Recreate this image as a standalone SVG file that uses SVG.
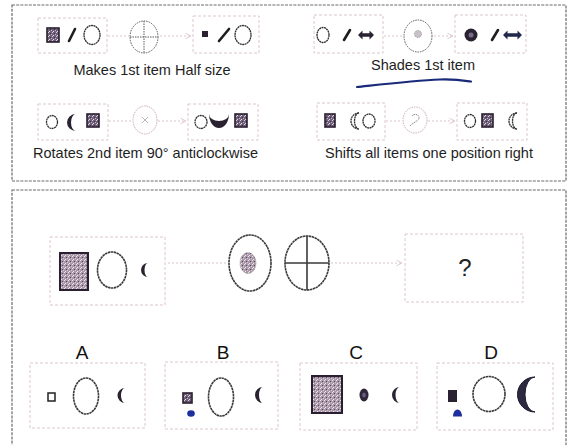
<svg xmlns="http://www.w3.org/2000/svg" width="571" height="445" viewBox="0 0 571 445">
<defs>
<pattern id="speck" width="4" height="4" patternUnits="userSpaceOnUse">
<rect width="4" height="4" fill="#6f5f78"/>
<rect x="0" y="0" width="1" height="1" fill="#d8d0dc"/>
<rect x="2" y="1" width="1" height="1" fill="#3e3046"/>
<rect x="1" y="3" width="1" height="1" fill="#e6e0ea"/>
<rect x="3" y="2" width="1" height="1" fill="#c3b4c8"/>
</pattern>
<pattern id="speckLight" width="4" height="4" patternUnits="userSpaceOnUse">
<rect width="4" height="4" fill="#a898a8"/>
<rect x="0" y="0" width="1" height="1" fill="#ece4ec"/>
<rect x="2" y="1" width="1" height="1" fill="#5a4a60"/>
<rect x="1" y="3" width="1" height="1" fill="#f0eaf0"/>
<rect x="3" y="2" width="1" height="1" fill="#d4c6d4"/>
</pattern>
<marker id="arr" viewBox="0 0 10 10" refX="9" refY="5" markerWidth="7" markerHeight="7" orient="auto">
<path d="M1,1 L9,5 L1,9" fill="none" stroke="#d9c3c9" stroke-width="1.2"/>
</marker>
</defs>
<style>
.panel{fill:none;stroke:#6a6a6a;stroke-width:1.2;stroke-dasharray:3 1.2}
.box{fill:none;stroke:#dcc6cc;stroke-width:1;stroke-dasharray:3 2}
.ink{fill:#2a2230}
.sq{fill:url(#speck);stroke:#2a1f30;stroke-width:1.6}
.sqL{fill:url(#speckLight);stroke:#2a1f30;stroke-width:2}
.ring{fill:none;stroke:#2e2e2e;stroke-width:1.3;stroke-dasharray:2 0.5}
.ring2{fill:none;stroke:#3a3a3a;stroke-width:1.6;stroke-dasharray:2.5 0.5}
.op{fill:none;stroke:#5a5a5a;stroke-width:1;stroke-dasharray:1.5 1}
.opp{fill:none;stroke:#c9a9b2;stroke-width:1;stroke-dasharray:1.5 1}
.slash{stroke:#1e1e1e;stroke-width:2.6;stroke-linecap:round}
.conn{fill:none;stroke:#dcc4ca;stroke-width:1;stroke-dasharray:2 2}
.lbl{font-family:"Liberation Sans",Arial,sans-serif;font-size:14.5px;fill:#1e1e1e}
.let{font-family:"Liberation Sans",Arial,sans-serif;font-size:19px;fill:#111;text-anchor:middle}
.blue{fill:#1c2f9c}
</style>

<rect class="panel" x="12" y="5" width="554" height="176"/>
<rect class="panel" x="12" y="190" width="554" height="270"/>

<g id="connectors">
<line class="conn" x1="108" y1="36" x2="129" y2="36"/>
<line class="conn" x1="160" y1="36" x2="191" y2="36" marker-end="url(#arr)"/>
<line class="conn" x1="384" y1="36" x2="403" y2="36"/>
<line class="conn" x1="434" y1="36" x2="453" y2="36" marker-end="url(#arr)"/>
<line class="conn" x1="109" y1="121" x2="132" y2="121"/>
<line class="conn" x1="158" y1="121" x2="186" y2="121" marker-end="url(#arr)"/>
<line class="conn" x1="386" y1="121" x2="402" y2="121"/>
<line class="conn" x1="428" y1="121" x2="455" y2="121" marker-end="url(#arr)"/>
<line class="conn" x1="168" y1="263" x2="227" y2="263"/>
<line class="conn" x1="331" y1="263" x2="402" y2="263" marker-end="url(#arr)"/>
</g>

<g id="ex1-in">
<rect class="box" x="38" y="18" width="69" height="35"/>
<rect class="sq" x="47" y="28" width="12" height="14"/>
<line class="slash" x1="69" y1="41" x2="75" y2="29"/>
<ellipse class="ring" cx="92" cy="35" rx="8" ry="9.5"/>
</g>
<g id="ex1-op">
<ellipse class="op" cx="144" cy="37" rx="14" ry="16"/>
<line class="op" x1="130" y1="37" x2="158" y2="37"/>
<line class="op" x1="144" y1="21" x2="144" y2="53"/>
</g>
<g id="ex1-out">
<rect class="box" x="193" y="16" width="66" height="37"/>
<rect class="ink" x="202" y="31" width="6" height="6"/>
<line class="slash" x1="219" y1="41" x2="229" y2="29"/>
<ellipse class="ring" cx="243" cy="35" rx="8" ry="9.5"/>
</g>
<text class="lbl" x="152" y="75" text-anchor="middle">Makes 1st item Half size</text>

<g id="ex2-in">
<rect class="box" x="314" y="15" width="69" height="38"/>
<ellipse class="ring" cx="323" cy="35" rx="6" ry="7.5"/>
<line class="slash" x1="344" y1="40" x2="350" y2="30"/>
<path class="ink" d="M358,35 L362.5,30.5 L362.5,33.3 L369.5,33.3 L369.5,30.5 L374,35 L369.5,39.5 L369.5,36.7 L362.5,36.7 L362.5,39.5 Z"/>
</g>
<g id="ex2-op">
<ellipse class="op" cx="418" cy="36" rx="14" ry="16"/>
<circle cx="418" cy="34" r="3.5" fill="#c8c2c8" stroke="#8a8a8a" stroke-width="0.8" stroke-dasharray="1 0.8"/>
</g>
<g id="ex2-out">
<rect class="box" x="455" y="15" width="71" height="38"/>
<circle cx="471" cy="35" r="6.5" fill="#2a2230"/>
<circle cx="471" cy="35" r="2.5" fill="#7a6a8a"/>
<line class="slash" x1="492" y1="40" x2="498" y2="30"/>
<path d="M503,35 L507.5,30.5 L507.5,33.3 L517.5,33.3 L517.5,30.5 L522,35 L517.5,39.5 L517.5,36.7 L507.5,36.7 L507.5,39.5 Z" fill="#22284a"/>
</g>
<text class="lbl" x="423" y="70" text-anchor="middle">Shades 1st item</text>
<path d="M357,87 C385,84 415,80.5 440,79.5 C455,79 464,80.5 471,81.5" fill="none" stroke="#1a2a7a" stroke-width="2.2" stroke-linecap="round"/>

<g id="ex3-in">
<rect class="box" x="38" y="104" width="70" height="36"/>
<ellipse class="ring" cx="52" cy="122" rx="5.5" ry="6.5"/>
<path class="ink" d="M76,114 A9,8.5 0 0 0 76,131 A5,8.5 0 0 1 76,114 Z"/>
<rect class="sq" x="87" y="114" width="12" height="13"/>
</g>
<g id="ex3-op">
<ellipse class="opp" cx="145" cy="120" rx="12" ry="14"/>
<path d="M142,117 L148,123 M148,117 L142,123" stroke="#b0b0b0" stroke-width="0.9" fill="none"/>
</g>
<g id="ex3-out">
<rect class="box" x="188" y="104" width="70" height="36"/>
<ellipse class="ring" cx="201" cy="122" rx="6" ry="6.5"/>
<path class="ink" d="M209,114 A10,14 0 0 0 229,114 A10,7 0 0 1 209,114 Z"/>
<rect class="sq" x="235" y="114" width="12" height="13"/>
</g>
<text class="lbl" x="33" y="158">Rotates 2nd item 90° anticlockwise</text>

<g id="ex4-in">
<rect class="box" x="317" y="103" width="68" height="37"/>
<rect class="sq" x="325" y="114" width="10" height="13"/>
<path class="ring" d="M359,113 A8,8 0 0 0 359,129 A4.5,8 0 0 1 359,113 Z"/>
<ellipse class="ring" cx="369" cy="121" rx="6" ry="7"/>
</g>
<g id="ex4-op">
<ellipse class="opp" cx="415" cy="120" rx="12" ry="13"/>
<path d="M410,126 C413,122 420,121 419,117 C418,113.5 413,114 412,116" fill="none" stroke="#8a8a8a" stroke-width="1" stroke-dasharray="1.5 0.8"/>
</g>
<g id="ex4-out">
<rect class="box" x="457" y="103" width="70" height="37"/>
<ellipse class="ring" cx="470" cy="121" rx="5.5" ry="6.5"/>
<rect class="sq" x="482" y="114" width="11" height="13"/>
<path class="ring" d="M517,113 A8,8 0 0 0 517,129 A4.5,8 0 0 1 517,113 Z"/>
</g>
<text class="lbl" x="325" y="158">Shifts all items one position right</text>

<g id="question-in">
<rect class="box" x="50" y="237" width="115" height="68"/>
<rect class="sqL" x="60" y="253" width="28" height="37"/>
<ellipse class="ring2" cx="112" cy="270" rx="14.5" ry="18"/>
<path class="ink" d="M148,263 A7,7 0 0 0 148,277 A3.5,7 0 0 1 148,263 Z"/>
</g>
<g id="rule-shade">
<ellipse class="ring2" cx="250" cy="263" rx="21" ry="28"/>
<ellipse cx="248" cy="263" rx="8" ry="10.5" fill="url(#speckLight)" stroke="#9a9a9a" stroke-width="0.8" stroke-dasharray="1 0.6"/>
</g>
<g id="rule-half">
<ellipse class="ring2" cx="307" cy="263" rx="22" ry="27"/>
<line x1="285" y1="263" x2="329" y2="263" stroke="#3a3a3a" stroke-width="1.6"/>
<line x1="307" y1="236" x2="307" y2="290" stroke="#3a3a3a" stroke-width="1.6"/>
</g>
<g id="question-out">
<rect class="box" x="405" y="234" width="118" height="68"/>
<text x="465" y="276" text-anchor="middle" font-family="Liberation Sans, Arial, sans-serif" font-size="24" fill="#222">?</text>
</g>

<g id="option-A">
<text class="let" x="82" y="359">A</text>
<rect class="box" x="30" y="363" width="115" height="65"/>
<rect x="48" y="393" width="7" height="8" fill="none" stroke="#222" stroke-width="1.5"/>
<ellipse class="ring2" cx="86" cy="396" rx="12.5" ry="18"/>
<path class="ink" d="M125,388 A7.5,7.5 0 0 0 125,403 A4,7.5 0 0 1 125,388 Z"/>
</g>
<g id="option-B">
<text class="let" x="223" y="359">B</text>
<rect class="box" x="165" y="362" width="113" height="67"/>
<rect class="sq" x="183" y="393" width="9" height="10"/>
<ellipse class="blue" cx="191" cy="413.5" rx="3.8" ry="3.2"/>
<ellipse class="ring2" cx="221" cy="397" rx="12.5" ry="19"/>
<path class="ink" d="M263,387 A8,8 0 0 0 263,403 A4,8 0 0 1 263,387 Z"/>
</g>
<g id="option-C">
<text class="let" x="356" y="359">C</text>
<rect class="box" x="300" y="363" width="117" height="67"/>
<rect class="sqL" x="312" y="376" width="30" height="37"/>
<ellipse cx="364" cy="395" rx="4.5" ry="6.5" fill="#2e2638"/>
<ellipse cx="364" cy="395" rx="1.8" ry="2.5" fill="#6a5a80"/>
<path class="ink" d="M400,387 A8,8 0 0 0 400,403 A4.5,8 0 0 1 400,387 Z"/>
</g>
<g id="option-D">
<text class="let" x="491" y="359">D</text>
<rect class="box" x="437" y="363" width="116" height="67"/>
<rect class="ink" x="448" y="390" width="9" height="12"/>
<path class="blue" d="M453,416.5 A4.5,7 0 0 1 462,416.5 Z"/>
<ellipse class="ring2" cx="489" cy="394" rx="16" ry="17.5"/>
<path d="M535,377 A17.5,17.5 0 0 0 535,412 A10,17.5 0 0 1 535,377 Z" fill="#2c2840" stroke="#1e1a2c" stroke-width="1"/>
</g>
</svg>
